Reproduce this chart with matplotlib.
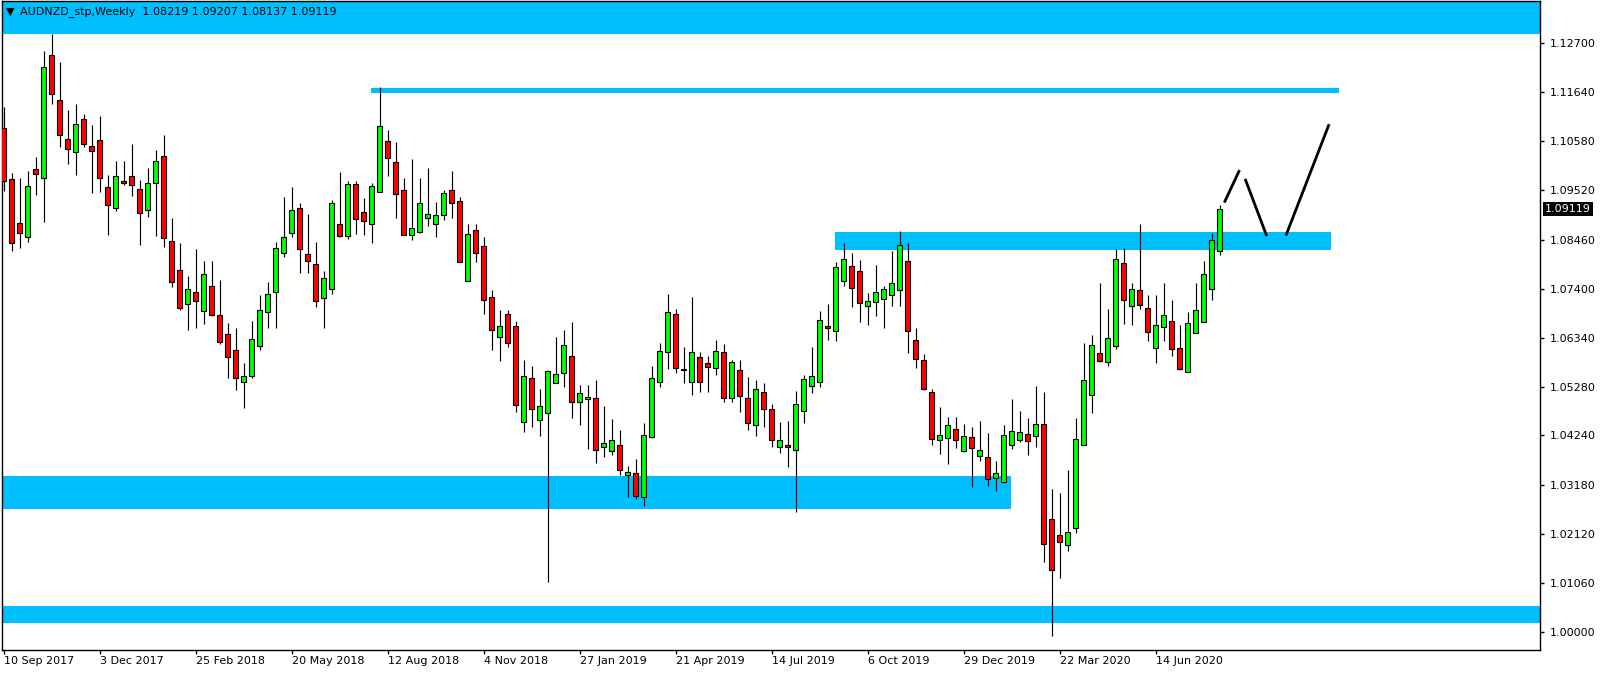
"""
AUDNZD semanal con zonas de soporte/resistencia y proyección dibujada a mano.
Recrea una captura de MT4 con matplotlib.
"""

import matplotlib
matplotlib.use("Agg")
import matplotlib.pyplot as plt
import matplotlib.transforms as mtransforms
from matplotlib.patches import Rectangle

# ---- datos OHLC semanales (10 Sep 2017 -> ago 2020) ----
opens = [
    1.1086, 1.0977, 1.0882, 1.0851, 1.0998, 1.0978, 1.1244, 1.1148, 1.1062, 1.1036,
    1.1106, 1.1047, 1.1060, 1.0959, 1.0914, 1.0973, 1.0983, 1.0956, 1.0909, 1.0968,
    1.1026, 1.0843, 1.0780, 1.0708, 1.0733, 1.0693, 1.0747, 1.0683, 1.0642, 1.0608,
    1.0540, 1.0553, 1.0616, 1.0691, 1.0734, 1.0817, 1.0860, 1.0915, 1.0814, 1.0793,
    1.0720, 1.0740, 1.0879, 1.0853, 1.0965, 1.0905, 1.0879, 1.0949, 1.1058, 1.1013,
    1.0952, 1.0856, 1.0862, 1.0892, 1.0879, 1.0900, 1.0952, 1.0929, 1.0757, 1.0866,
    1.0833, 1.0722, 1.0636, 1.0686, 1.0660, 1.0452, 1.0548, 1.0458, 1.0473, 1.0536,
    1.0558, 1.0595, 1.0497, 1.0502, 1.0504, 1.0398, 1.0391, 1.0404, 1.0339, 1.0343,
    1.0292, 1.0421, 1.0538, 1.0603, 1.0686, 1.0566, 1.0538, 1.0593, 1.0580, 1.0569,
    1.0603, 1.0504, 1.0565, 1.0504, 1.0447, 1.0517, 1.0480, 1.0398, 1.0403, 1.0393,
    1.0476, 1.0530, 1.0540, 1.0660, 1.0650, 1.0757, 1.0789, 1.0778, 1.0704, 1.0711,
    1.0718, 1.0726, 1.0737, 1.0800, 1.0629, 1.0586, 1.0517, 1.0413, 1.0418, 1.0437,
    1.0390, 1.0420, 1.0380, 1.0378, 1.0331, 1.0323, 1.0404, 1.0415, 1.0427, 1.0422,
    1.0448, 1.0244, 1.0210, 1.0188, 1.0225, 1.0404, 1.0510, 1.0601, 1.0582, 1.0616,
    1.0796, 1.0703, 1.0737, 1.0699, 1.0612, 1.0657, 1.0671, 1.0613, 1.0561, 1.0645,
    1.0668, 1.0740, 1.08219,
]
highs = [
    1.1133, 1.0989, 1.0979, 1.0993, 1.1024, 1.1252, 1.1289, 1.1229, 1.1125, 1.1138,
    1.1117, 1.1093, 1.1112, 1.0985, 1.1015, 1.1015, 1.1052, 1.0975, 1.1001, 1.1039,
    1.1071, 1.0892, 1.0838, 1.0768, 1.0825, 1.0800, 1.0800, 1.0760, 1.0666, 1.0655,
    1.0580, 1.0671, 1.0726, 1.0755, 1.0841, 1.0939, 1.0960, 1.0926, 1.0902, 1.0841,
    1.0779, 1.0932, 1.0991, 1.0973, 1.0973, 1.0935, 1.0969, 1.1175, 1.1082, 1.1056,
    1.0979, 1.1019, 1.0979, 1.1001, 1.0928, 1.0952, 1.0993, 1.0939, 1.0879, 1.0880,
    1.0851, 1.0738, 1.0694, 1.0694, 1.0671, 1.0587, 1.0573, 1.0523, 1.0566, 1.0637,
    1.0652, 1.0668, 1.0533, 1.0533, 1.0543, 1.0488, 1.0460, 1.0436, 1.0357, 1.0373,
    1.0450, 1.0573, 1.0623, 1.0729, 1.0697, 1.0614, 1.0722, 1.0603, 1.0595, 1.0629,
    1.0621, 1.0587, 1.0587, 1.0549, 1.0543, 1.0536, 1.0491, 1.0453, 1.0455, 1.0520,
    1.0554, 1.0615, 1.0692, 1.0707, 1.0797, 1.0838, 1.0818, 1.0802, 1.0732, 1.0792,
    1.0747, 1.0822, 1.0864, 1.0838, 1.0655, 1.0599, 1.0523, 1.0485, 1.0463, 1.0463,
    1.0448, 1.0441, 1.0456, 1.0429, 1.0368, 1.0446, 1.0502, 1.0477, 1.0461, 1.0530,
    1.0517, 1.0308, 1.0299, 1.0349, 1.0462, 1.0624, 1.0641, 1.0752, 1.0697, 1.0826,
    1.0828, 1.0753, 1.0879, 1.0727, 1.0727, 1.0753, 1.0716, 1.0661, 1.0691, 1.0753,
    1.0800, 1.0861, 1.09207,
]
lows = [
    1.0951, 1.0821, 1.0827, 1.0841, 1.0942, 1.0883, 1.1139, 1.1046, 1.1009, 1.0985,
    1.1046, 1.0946, 1.0948, 1.0857, 1.0907, 1.0963, 1.0940, 1.0834, 1.0894, 1.0853,
    1.0831, 1.0743, 1.0695, 1.0652, 1.0656, 1.0664, 1.0681, 1.0621, 1.0547, 1.0522,
    1.0484, 1.0548, 1.0609, 1.0655, 1.0655, 1.0808, 1.0851, 1.0774, 1.0775, 1.0700,
    1.0655, 1.0728, 1.0851, 1.0847, 1.0858, 1.0855, 1.0839, 1.0949, 1.0984, 1.0892,
    1.0855, 1.0845, 1.0860, 1.0875, 1.0851, 1.0888, 1.0892, 1.0798, 1.0757, 1.0797,
    1.0685, 1.0609, 1.0585, 1.0615, 1.0474, 1.0431, 1.0441, 1.0423, 1.0107, 1.0536,
    1.0529, 1.0462, 1.0447, 1.0395, 1.0364, 1.0377, 1.0382, 1.0338, 1.0292, 1.0286,
    1.0271, 1.0418, 1.0529, 1.0568, 1.0558, 1.0537, 1.0510, 1.0517, 1.0518, 1.0554,
    1.0497, 1.0497, 1.0475, 1.0435, 1.0423, 1.0441, 1.0398, 1.0386, 1.0356, 1.0259,
    1.0450, 1.0516, 1.0529, 1.0629, 1.0628, 1.0747, 1.0700, 1.0669, 1.0661, 1.0681,
    1.0656, 1.0702, 1.0704, 1.0602, 1.0570, 1.0522, 1.0403, 1.0384, 1.0363, 1.0397,
    1.0388, 1.0312, 1.0368, 1.0315, 1.0305, 1.0322, 1.0395, 1.0410, 1.0382, 1.0399,
    1.0152, 0.9992, 1.0117, 1.0175, 1.0214, 1.0404, 1.0473, 1.0582, 1.0573, 1.0611,
    1.0665, 1.0663, 1.0696, 1.0628, 1.0579, 1.0628, 1.0596, 1.0565, 1.0561, 1.0645,
    1.0668, 1.0715, 1.08137,
]
closes = [
    1.0973, 1.0838, 1.0860, 1.0962, 1.0987, 1.1219, 1.1161, 1.1072, 1.1042, 1.1096,
    1.1053, 1.1038, 1.0980, 1.0920, 1.0984, 1.0968, 1.0964, 1.0904, 1.0969, 1.1016,
    1.0850, 1.0755, 1.0698, 1.0739, 1.0714, 1.0771, 1.0683, 1.0626, 1.0594, 1.0547,
    1.0553, 1.0631, 1.0694, 1.0728, 1.0827, 1.0852, 1.0910, 1.0826, 1.0801, 1.0713,
    1.0763, 1.0926, 1.0853, 1.0965, 1.0891, 1.0886, 1.0962, 1.1091, 1.1022, 1.0945,
    1.0857, 1.0872, 1.0924, 1.0902, 1.0900, 1.0946, 1.0926, 1.0798, 1.0859, 1.0817,
    1.0715, 1.0651, 1.0659, 1.0624, 1.0490, 1.0551, 1.0480, 1.0487, 1.0563, 1.0556,
    1.0619, 1.0496, 1.0515, 1.0507, 1.0393, 1.0407, 1.0414, 1.0349, 1.0344, 1.0294,
    1.0424, 1.0548, 1.0605, 1.0690, 1.0569, 1.0568, 1.0603, 1.0538, 1.0571, 1.0605,
    1.0504, 1.0582, 1.0508, 1.0450, 1.0523, 1.0480, 1.0415, 1.0413, 1.0398, 1.0491,
    1.0545, 1.0551, 1.0673, 1.0655, 1.0788, 1.0804, 1.0742, 1.0709, 1.0713, 1.0734,
    1.0740, 1.0752, 1.0835, 1.0649, 1.0589, 1.0525, 1.0416, 1.0424, 1.0446, 1.0413,
    1.0422, 1.0396, 1.0393, 1.0329, 1.0342, 1.0424, 1.0433, 1.0431, 1.0411, 1.0448,
    1.0190, 1.0134, 1.0194, 1.0216, 1.0416, 1.0543, 1.0619, 1.0584, 1.0634, 1.0805,
    1.0716, 1.0740, 1.0706, 1.0647, 1.0662, 1.0684, 1.0610, 1.0568, 1.0667, 1.0695,
    1.0771, 1.0846, 1.09119,
]

date_labels = ["10 Sep 2017", "3 Dec 2017", "25 Feb 2018", "20 May 2018",
               "12 Aug 2018", "4 Nov 2018", "27 Jan 2019", "21 Apr 2019",
               "14 Jul 2019", "6 Oct 2019", "29 Dec 2019", "22 Mar 2020",
               "14 Jun 2020"]
price_ticks = [1.12700, 1.11640, 1.10580, 1.09520, 1.08460, 1.07400, 1.06340,
               1.05280, 1.04240, 1.03180, 1.02120, 1.01060, 1.00000]

# zonas (precio bajo, precio alto, barra inicio, barra fin)
zone_top = (1.12904, 1.1400)
zone_line = (1.11632, 1.11725, 45.9, 166.9)
zone_mid = (1.08234, 1.08615, 103.9, 165.9)
zone_low = (1.02646, 1.03370, -1.0, 125.9)
zone_bottom = (1.00204, 1.00566)

# proyección dibujada (índice de barra, precio)
proj_segments = [
    ([152.6, 154.5], [1.0926, 1.0996]),
    ([155.2, 157.9], [1.0977, 1.0854]),
    ([160.3, 165.7], [1.0855, 1.1095]),
]

BLUE = "#00BFFF"
W, H = 1604, 674


def main():
    fig = plt.figure(figsize=(W / 100, H / 100), dpi=100)
    ax = fig.add_axes([2 / W, (H - 650) / H, 1538 / W, 649 / H])
    ax.set_xlim(-0.19, 192.06)
    ax.set_ylim(0.99612, 1.13606)

    # ---- zonas ----
    ax.axhspan(*zone_top, color=BLUE, lw=0, zorder=1)
    ax.axhspan(*zone_bottom, color=BLUE, lw=0, zorder=1)
    for lo, hi, x0, x1 in (zone_line, zone_mid, zone_low):
        ax.add_patch(Rectangle((x0, lo), x1 - x0, hi - lo, color=BLUE, lw=0, zorder=1))

    # ---- velas ----
    idx = list(range(len(opens)))
    ax.vlines(idx, lows, highs, color="black", lw=0.85, zorder=2)
    bottoms = [min(o, c) for o, c in zip(opens, closes)]
    heights = [max(abs(c - o), 0.00004) for o, c in zip(opens, closes)]
    colors = ["#00FF00" if c >= o else "#FF0000" for o, c in zip(opens, closes)]
    ax.bar(idx, heights, bottom=bottoms, width=0.56, color=colors,
           edgecolor="black", linewidth=0.8, zorder=3)

    # ---- proyección ----
    for xs, ys in proj_segments:
        ax.plot(xs, ys, color="black", lw=2.0, solid_capstyle="butt", zorder=4)

    # ---- ejes ----
    for s in ax.spines.values():
        s.set_color("black")
        s.set_linewidth(1.0)
    ax.yaxis.tick_right()
    ax.set_yticks(price_ticks)
    ax.set_yticklabels([f"{v:.5f}" for v in price_ticks])
    ax.set_xticks(range(0, 12 * len(date_labels), 12))
    ax.set_xticklabels(date_labels, ha="left")
    ax.tick_params(axis="both", direction="out", length=3, width=1,
                   labelsize=8, colors="black")
    ax.tick_params(axis="x", pad=1)
    ax.tick_params(axis="y", pad=4)

    # precio actual
    trans = mtransforms.blended_transform_factory(ax.transAxes, ax.transData)
    ax.text(1.0 + 5 / 1538, closes[-1], f"{closes[-1]:.5f}", transform=trans,
            fontsize=8, color="white", va="center", ha="left",
            bbox=dict(facecolor="black", edgecolor="none", pad=1.2), zorder=5,
            clip_on=False)

    # cabecera
    fig.text(6 / W, 1 - 12 / H, "\u25bc", fontsize=8, va="center", ha="left")
    fig.text(20 / W, 1 - 12 / H,
             f"AUDNZD_stp,Weekly  {opens[-1]:.5f} {highs[-1]:.5f} "
             f"{lows[-1]:.5f} {closes[-1]:.5f}",
             fontsize=8, va="center", ha="left", color="black")

    fig.savefig("out.png", dpi=100)
    plt.close(fig)


if __name__ == "__main__":
    main()
